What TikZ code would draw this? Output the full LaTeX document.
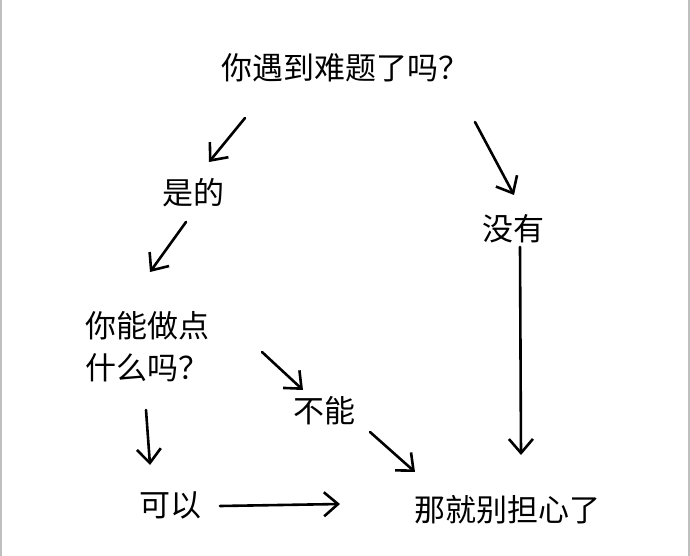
\documentclass[tikz,border=0pt]{standalone}
\usepackage{fontspec}
\newfontfamily\cjk{Noto Sans CJK SC}
\usetikzlibrary{arrows.meta}
\begin{document}
\begin{tikzpicture}[x=1pt,y=-1pt,
  txt/.style={font=\cjk\fontsize{31}{36}\selectfont,inner sep=0pt,align=left},
  arr/.style={line width=2.6pt,line cap=round,-{Straight Barb[length=14pt,width=24pt,line width=2.6pt]}}]
\useasboundingbox (0,0) rectangle (690,556);
\fill[white] (0,0) rectangle (690,556);
\draw[gray!50,line width=1.5pt] (1,0)--(1,556) (689,0)--(689,556);
\node[txt] (q) at (345,68) {你遇到难题了吗？};
\node[txt] (yes) at (193,193) {是的};
\node[txt] (no) at (513,229) {没有};
\node[txt,align=left] (can) at (147,347) {你能做点\\[6pt]什么吗？};
\node[txt] (cannot) at (324,411) {不能};
\node[txt] (ok) at (170,505) {可以};
\node[txt] (end) at (507,510) {那就别担心了};
\coordinate (a1) at (245,118); \coordinate (b1) at (209,162);
\coordinate (a2) at (186,222); \coordinate (b2) at (150,272);
\coordinate (a3) at (475,122); \coordinate (b3) at (514,195);
\coordinate (a4) at (520,247); \coordinate (b4) at (521,455);
\coordinate (a5) at (262,352); \coordinate (b5) at (303,390);
\coordinate (a6) at (370,432); \coordinate (b6) at (415,472);
\coordinate (a7) at (146,410); \coordinate (b7) at (150,465);
\coordinate (a8) at (220,506); \coordinate (b8) at (340,504);
\foreach \i in {1,...,8} \draw[arr] (a\i) -- (b\i);
\end{tikzpicture}
\end{document}
